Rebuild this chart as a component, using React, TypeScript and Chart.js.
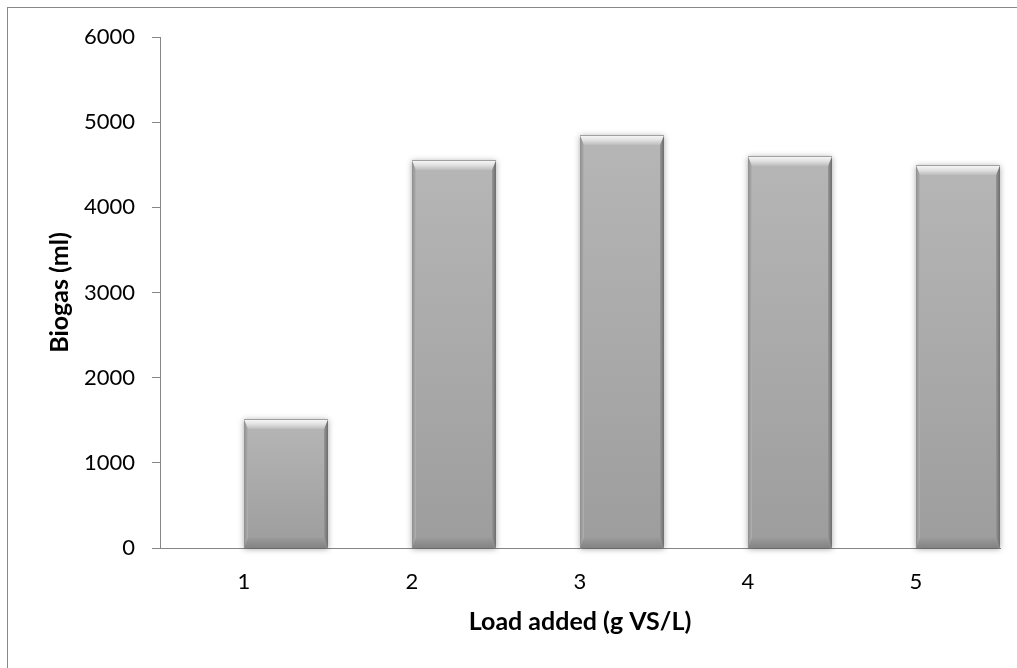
import React, { useEffect, useRef } from "react";
import { Chart, registerables } from "chart.js";

Chart.register(...registerables);

const categories = ["1", "2", "3", "4", "5"];
const biogasValues = [1510, 4550, 4850, 4600, 4500];
const emptySeries = [null, null, null, null, null];
const yTicks = [0, 1000, 2000, 3000, 4000, 5000, 6000];

const FONT = "Lato, 'Open Sans', 'DejaVu Sans', sans-serif";
const AXIS_COLOR = "#868686";

function drawBevelBar(ctx: CanvasRenderingContext2D, x0: number, y0: number, x1: number, y1: number) {
  const w = x1 - x0;
  const h = y1 - y0;
  if (h <= 0) return;
  const b = Math.min(10, h / 4);
  const s = 4;
  ctx.save();
  ctx.shadowColor = "rgba(0,0,0,0.35)";
  ctx.shadowBlur = 6;
  ctx.shadowOffsetX = 0;
  ctx.shadowOffsetY = 1;
  ctx.fillStyle = "#a8a8a8";
  ctx.fillRect(x0, y0, w, h);
  ctx.restore();

  ctx.save();
  const g = ctx.createLinearGradient(0, y0, 0, y1);
  g.addColorStop(0, "#b6b6b6");
  g.addColorStop(1, "#9d9d9d");
  ctx.fillStyle = g;
  ctx.fillRect(x0, y0, w, h);

  const gl = ctx.createLinearGradient(x0, 0, x0 + s, 0);
  gl.addColorStop(0, "#8e8e8e");
  gl.addColorStop(1, "#b0b0b0");
  ctx.fillStyle = gl;
  ctx.beginPath();
  ctx.moveTo(x0, y0);
  ctx.lineTo(x0 + s, y0 + b);
  ctx.lineTo(x0 + s, y1 - b);
  ctx.lineTo(x0, y1);
  ctx.closePath();
  ctx.fill();

  const gr = ctx.createLinearGradient(x1, 0, x1 - s, 0);
  gr.addColorStop(0, "#6c6c6c");
  gr.addColorStop(1, "#969696");
  ctx.fillStyle = gr;
  ctx.beginPath();
  ctx.moveTo(x1, y0);
  ctx.lineTo(x1 - s, y0 + b);
  ctx.lineTo(x1 - s, y1 - b);
  ctx.lineTo(x1, y1);
  ctx.closePath();
  ctx.fill();

  const gt = ctx.createLinearGradient(0, y0, 0, y0 + b);
  gt.addColorStop(0, "#fafafa");
  gt.addColorStop(0.5, "#e2e2e2");
  gt.addColorStop(1, "#bcbcbc");
  ctx.fillStyle = gt;
  ctx.beginPath();
  ctx.moveTo(x0, y0);
  ctx.lineTo(x1, y0);
  ctx.lineTo(x1 - s, y0 + b);
  ctx.lineTo(x0 + s, y0 + b);
  ctx.closePath();
  ctx.fill();

  const gb = ctx.createLinearGradient(0, y1 - b, 0, y1);
  gb.addColorStop(0, "#9a9a9a");
  gb.addColorStop(1, "#838383");
  ctx.fillStyle = gb;
  ctx.beginPath();
  ctx.moveTo(x0, y1);
  ctx.lineTo(x1, y1);
  ctx.lineTo(x1 - s, y1 - b);
  ctx.lineTo(x0 + s, y1 - b);
  ctx.closePath();
  ctx.fill();

  ctx.fillStyle = "#a0a0a0";
  ctx.fillRect(x0, y0, w, 1);
  ctx.restore();
}

const bevelPlugin = {
  id: "bevelBars",
  afterDatasetsDraw(chart: any) {
    const ctx = chart.ctx as CanvasRenderingContext2D;
    const meta = chart.getDatasetMeta(1);
    meta.data.forEach((el: any) => {
      const { x, y, base, width } = el.getProps(["x", "y", "base", "width"], true);
      const x0 = Math.round(x - width / 2);
      const x1 = Math.round(x + width / 2);
      drawBevelBar(ctx, x0, Math.round(y), x1, Math.round(base));
    });
  },
};

export default function App() {
  const canvasRef = useRef<HTMLCanvasElement | null>(null);

  useEffect(() => {
    if (!canvasRef.current) return;
    const chart = new Chart(canvasRef.current, {
      type: "bar",
      data: {
        labels: categories,
        datasets: [
          {
            label: "empty",
            data: emptySeries as any,
            backgroundColor: "rgba(0,0,0,0)",
          },
          {
            label: "Biogas",
            data: biogasValues,
            backgroundColor: "rgba(0,0,0,0)",
            borderWidth: 0,
          },
        ],
      },
      options: {
        animation: false,
        responsive: false,
        maintainAspectRatio: false,
        events: [],
        layout: { padding: { top: 37, left: 0, right: 17, bottom: 0 } },
        datasets: { bar: { categoryPercentage: 1, barPercentage: 1 } },
        plugins: {
          legend: { display: false },
          tooltip: { enabled: false },
          title: { display: false },
        },
        scales: {
          x: {
            grid: { display: false, drawTicks: false },
            border: { display: true, color: AXIS_COLOR, width: 1 },
            ticks: {
              color: "#000",
              font: { family: FONT, size: 22 },
              padding: 21,
              maxRotation: 0,
            },
            title: {
              display: true,
              text: "Load added (g VS/L)",
              color: "#000",
              font: { family: FONT, size: 25, weight: "bold" },
              padding: { top: 0, bottom: 31 },
            },
            afterFit(scale: any) {
              scale.height = 120;
            },
          },
          y: {
            min: 0,
            max: 6000,
            afterBuildTicks(scale: any) {
              scale.ticks = yTicks.map((v) => ({ value: v }));
            },
            grid: {
              display: true,
              drawOnChartArea: false,
              drawTicks: true,
              tickLength: 8,
              tickColor: AXIS_COLOR,
              tickWidth: 1,
            },
            border: { display: true, color: AXIS_COLOR, width: 1 },
            ticks: {
              color: "#000",
              font: { family: FONT, size: 22 },
              padding: 17,
              callback: (v: any) => String(v),
            },
            title: {
              display: true,
              text: "Biogas (ml)",
              color: "#000",
              font: { family: FONT, size: 25, weight: "bold" },
              padding: { top: 45, bottom: 0 },
            },
            afterFit(scale: any) {
              scale.width = 160;
            },
          },
        },
      },
      plugins: [bevelPlugin],
    });
    return () => chart.destroy();
  }, []);

  return (
    <div
      style={{
        position: "fixed",
        left: 0,
        top: 0,
        width: 1017,
        height: 668,
        overflow: "hidden",
        background: "#fff",
      }}
    >
      <div
        style={{
          position: "absolute",
          left: 7,
          top: 7,
          width: 1200,
          height: 900,
          border: "1px solid #888",
          boxSizing: "border-box",
        }}
      />
      <canvas
        ref={canvasRef}
        width={1017}
        height={668}
        style={{ position: "absolute", left: 0, top: 0, width: 1017, height: 668 }}
      />
    </div>
  );
}
